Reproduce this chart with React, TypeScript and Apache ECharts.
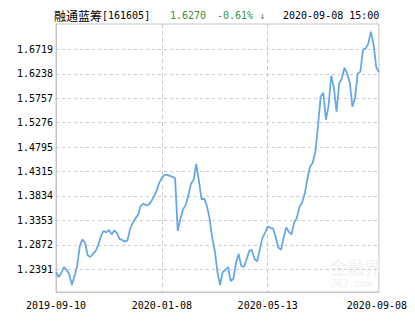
import React, { useEffect, useRef } from "react";
import * as echarts from "echarts";

const values: number[] = [
  1.2338, 1.2239, 1.2318, 1.2436, 1.2377, 1.2298, 1.2082, 1.2259, 1.2456, 1.285,
  1.2978, 1.2909, 1.2663, 1.2633, 1.2693, 1.2752, 1.287, 1.3047, 1.3146, 1.3116,
  1.3166, 1.3077, 1.3156, 1.3106, 1.2988, 1.2968, 1.2935, 1.2959, 1.3185, 1.3304,
  1.3392, 1.3461, 1.3639, 1.3684, 1.3649, 1.3658, 1.3727, 1.3826, 1.3934, 1.4092,
  1.4191, 1.425, 1.425, 1.423, 1.421, 1.4181, 1.3146, 1.3382, 1.357, 1.3658,
  1.3836, 1.4072, 1.4151, 1.4466, 1.4131, 1.3767, 1.3786, 1.3639, 1.3402, 1.3018,
  1.2752, 1.2338, 1.2082, 1.2338, 1.2377, 1.2436, 1.216, 1.22, 1.2515, 1.2693,
  1.2456, 1.2436, 1.2584, 1.2752, 1.2771, 1.2594, 1.2545, 1.2781, 1.3008, 1.3106,
  1.3235, 1.3205, 1.3195, 1.3028, 1.2821, 1.2771, 1.3008, 1.3215, 1.3126, 1.3077,
  1.3313, 1.3402, 1.3619, 1.3698, 1.3885, 1.4171, 1.4407, 1.4486, 1.4703, 1.5215,
  1.5787, 1.5866, 1.5334, 1.561, 1.6201, 1.5964, 1.5491, 1.6043, 1.6142, 1.6359,
  1.624, 1.6063, 1.559, 1.5767, 1.624, 1.628, 1.6713, 1.6733, 1.6832, 1.7068,
  1.6812, 1.637, 1.627,
];

const xTickIdx: number[] = [0, 40, 80, 122];
const xTickLabels: string[] = ["2019-09-10", "2020-01-08", "2020-05-13", "2020-09-08"];
const xGridIdx: number[] = [40, 80];
const yTicks: number[] = [1.2391, 1.2872, 1.3353, 1.3834, 1.4315, 1.4795, 1.5276, 1.5757, 1.6238, 1.6719];
const yMin = 1.1944;
const yMax = 1.7217;

const fundName = "融通蓝筹";
const fundCode = "[161605]";
const lastPrice = "1.6270";
const change = "-0.61% ↓";
const stamp = "2020-09-08 15:00";

const MONO = "'DejaVu Sans Mono', 'Liberation Mono', monospace";
const CJK = "'Noto Sans CJK SC', sans-serif";

export default function App() {
  const ref = useRef<HTMLDivElement>(null);
  useEffect(() => {
    if (!ref.current) return;
    const chart = echarts.init(ref.current, null, { renderer: "svg" });
    const cats = values.map((_, i) => String(i));
    chart.setOption({
      animation: false,
      backgroundColor: "#fff",
      grid: {
        left: 56,
        top: 24,
        right: 23,
        bottom: 38,
        show: true,
        borderColor: "#c4c4c4",
        borderWidth: 1,
        backgroundColor: "transparent",
      },
      xAxis: {
        type: "category",
        data: cats,
        boundaryGap: false,
        axisLine: { show: true, lineStyle: { color: "#c4c4c4" } },
        axisTick: { show: false },
        axisLabel: {
          interval: (idx: number) => xTickIdx.includes(idx),
          formatter: (_v: string, idx: number) => {
            const k = xTickIdx.indexOf(idx);
            if (k < 0) return "";
            if (k === xTickIdx.length - 1) return xTickLabels[k] + "{sp|\u00a0}";
            return xTickLabels[k];
          },
          color: "#000",
          fontFamily: MONO,
          fontSize: 10,
          margin: 8,
          rich: {
            sp: { fontFamily: MONO, fontSize: 10, width: 4 },
          },
        },
        splitLine: {
          show: true,
          interval: (idx: number) => xGridIdx.includes(idx),
          lineStyle: { color: "#cccccc", type: [4, 3], width: 1 },
        },
      },
      yAxis: {
        type: "value",
        min: yMin,
        max: yMax,
        axisLine: { show: true, lineStyle: { color: "#c4c4c4" } },
        axisTick: { show: false, customValues: yTicks },
        axisLabel: {
          customValues: yTicks,
          formatter: (v: number) => v.toFixed(4),
          color: "#000",
          fontFamily: MONO,
          fontSize: 10,
          margin: 3,
        },
        splitLine: {
          show: true,
          lineStyle: { color: "#cccccc", type: [3, 3], width: 1 },
        },
      },
      graphic: [
        {
          type: "text",
          left: 54,
          top: 9,
          style: {
            text: "{c|" + fundName + "}{m|" + fundCode + "}",
            rich: {
              c: { fontFamily: CJK, fontSize: 12, fill: "#000" },
              m: { fontFamily: MONO, fontSize: 10, fill: "#000" },
            },
          },
        },
        {
          type: "text",
          left: 170,
          top: 10,
          style: { text: lastPrice, fontFamily: MONO, fontSize: 10, fill: "#3a8f3a" },
        },
        {
          type: "text",
          left: 217,
          top: 10,
          style: { text: change, fontFamily: MONO, fontSize: 10, fill: "#3a8f3a" },
        },
        {
          type: "text",
          left: 283,
          top: 10,
          style: { text: stamp, fontFamily: MONO, fontSize: 10, fill: "#000" },
        },
        {
          type: "text",
          left: 330,
          top: 258,
          style: { text: "金融界", fontFamily: CJK, fontSize: 17, fill: "#f0f0f0" },
        },
        {
          type: "text",
          left: 330,
          top: 278,
          style: { text: "JRJ.com", fontFamily: MONO, fontSize: 10, fill: "#f0f0f0" },
        },
      ],
      series: [
        {
          type: "line",
          data: values,
          showSymbol: false,
          symbol: "none",
          lineStyle: { color: "#66a8ea", width: 1.8 },
        },
      ],
    });
    return () => chart.dispose();
  }, []);
  return <div ref={ref} style={{ width: 415, height: 330, margin: -8 }} />;
}
